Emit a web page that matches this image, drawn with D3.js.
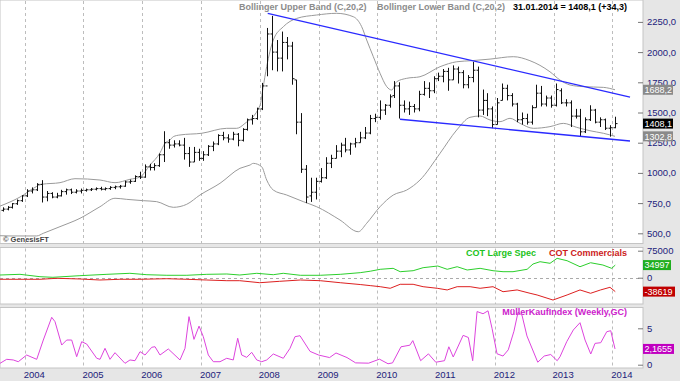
<!DOCTYPE html>
<html>
<head>
<meta charset="utf-8">
<script src="https://cdn.jsdelivr.net/npm/d3@7"></script>
<style>
  body { margin: 0; background: #e6e6e6; }
  svg { display: block; font-family: "Liberation Sans", Arial, sans-serif; }
</style>
</head>
<body>
<svg id="chart" width="680" height="381"></svg>
<script>
// ---- data ----
// monthly platinum bars, [open, high, low, close], starting Aug 2003
const startYear = 2003, startMonth = 7
const ohlc = [
  // 2003 Aug-Dec
  [690,715,680,700],[700,725,690,715],[715,750,705,745],[745,780,735,770],[770,815,760,810],
  // 2004
  [810,865,800,850],[850,880,830,860],[860,915,850,905],[905,940,755,800],[800,850,765,830],[830,840,790,800],
  [800,835,790,810],[810,860,805,845],[845,870,820,860],[860,870,825,840],[840,865,830,850],[850,870,830,855],
  // 2005
  [855,870,845,860],[860,875,850,865],[865,880,855,870],[870,885,855,865],[865,880,855,870],[870,890,860,880],
  [880,895,865,885],[885,900,870,890],[890,935,885,925],[925,945,910,930],[930,980,925,970],[970,1010,950,965],
  // 2006
  [965,1070,960,1050],[1050,1075,1020,1045],[1045,1080,1020,1060],[1060,1160,1050,1150],[1150,1345,1090,1250],[1250,1280,1200,1230],
  [1230,1270,1210,1240],[1240,1270,1220,1230],[1230,1290,1110,1160],[1160,1215,1050,1090],[1090,1215,1090,1170],[1170,1200,1100,1120],
  // 2007
  [1120,1180,1100,1150],[1150,1230,1140,1220],[1220,1260,1180,1240],[1240,1320,1230,1310],[1310,1340,1270,1290],[1290,1320,1250,1280],
  [1280,1340,1270,1320],[1320,1330,1220,1270],[1270,1370,1260,1360],[1360,1450,1350,1440],[1440,1480,1400,1450],[1450,1540,1440,1530],
  // 2008
  [1530,1745,1520,1720],[1720,2200,1800,2150],[2150,2300,1850,2000],[2000,2100,1840,1950],[1950,2170,1840,2080],[2080,2125,1940,2050],
  [2050,2085,1730,1780],[1770,1770,1320,1420],[1420,1495,1000,1030],[1030,1065,750,800],[810,960,760,840],[840,960,780,930],
  // 2009
  [930,1040,920,960],[960,1130,950,1080],[1080,1150,1040,1120],[1120,1230,1120,1180],[1180,1250,1130,1230],[1230,1290,1170,1190],
  [1190,1250,1150,1240],[1240,1290,1210,1250],[1250,1340,1250,1290],[1290,1380,1280,1330],[1330,1480,1320,1450],[1450,1490,1420,1460],
  // 2010
  [1460,1600,1440,1520],[1520,1570,1480,1560],[1560,1650,1540,1630],[1640,1760,1620,1720],[1720,1750,1450,1560],[1560,1600,1500,1530],
  [1530,1590,1480,1550],[1550,1570,1500,1530],[1530,1680,1510,1650],[1650,1760,1640,1700],[1700,1750,1620,1680],[1680,1800,1660,1780],
  // 2011
  [1780,1830,1760,1800],[1800,1860,1750,1840],[1840,1870,1680,1770],[1770,1890,1770,1860],[1860,1880,1740,1830],[1830,1850,1700,1730],
  [1730,1810,1700,1790],[1790,1920,1750,1850],[1850,1880,1460,1520],[1520,1690,1480,1600],[1600,1660,1470,1530],[1530,1550,1370,1400],
  // 2012
  [1400,1620,1400,1580],[1600,1740,1600,1700],[1700,1730,1600,1640],[1640,1660,1550,1570],[1570,1580,1420,1440],[1440,1500,1400,1450],
  [1450,1490,1400,1420],[1420,1560,1400,1540],[1540,1730,1540,1660],[1660,1720,1550,1570],[1570,1640,1550,1620],[1620,1640,1540,1560],
  // 2013
  [1560,1740,1550,1690],[1680,1700,1570,1580],[1580,1610,1550,1580],[1580,1600,1380,1470],[1470,1530,1450,1470],[1470,1530,1300,1340],
  [1340,1460,1330,1440],[1440,1560,1430,1520],[1520,1530,1410,1420],[1420,1460,1380,1440],[1440,1450,1355,1370],[1370,1395,1300,1374],
  // 2014 Jan
  [1374,1465,1370,1408.1]
]

// Bollinger bands, [year, value]
const upperBand = [
  [2003.580,725],[2003.920,800],[2004.175,880],[2004.294,906],[2004.601,919],[2004.856,952],[2005.281,941],
  [2005.537,919],[2005.792,947],[2005.962,966],[2006.132,1065],[2006.302,1165],[2006.387,1245],[2006.472,1272],
  [2006.529,1300],[2006.643,1314],[2007.012,1328],[2007.438,1369],[2007.608,1369],[2007.749,1410],[2008.005,1560],
  [2008.055,1700],[2008.118,1879],[2008.231,2100],[2008.401,2210],[2008.629,2279],[2008.969,2307],[2009.310,2321],
  [2009.592,2293],[2009.735,2210],[2009.820,2100],[2009.933,1962],[2010.047,1825],[2010.161,1714],[2010.246,1686],
  [2010.331,1755],[2010.501,1783],[2010.727,1796],[2011.068,1879],[2011.352,1920],[2011.607,1929],[2011.919,1942],
  [2012.315,1962],[2012.598,1929],[2012.939,1837],[2013.109,1769],[2013.279,1728],[2013.506,1714],[2013.847,1708],
  [2014.046,1688.2]
]
const lowerBand = [
  [2003.580,480],[2003.750,478],[2004.204,478],[2004.317,500],[2004.601,555],[2004.941,624],[2005.281,720],
  [2005.537,790],[2005.736,781],[2006.018,770],[2006.246,762],[2006.529,715],[2006.757,740],[2006.983,817],
  [2007.324,914],[2007.664,1038],[2007.834,1065],[2007.890,1079],[2008.033,1051],[2008.118,941],[2008.231,858],
  [2008.459,817],[2008.741,762],[2008.969,720],[2009.366,610],[2009.677,513],[2009.820,583],[2010.047,720],
  [2010.273,817],[2010.501,858],[2010.727,941],[2011.068,1162],[2011.352,1355],[2011.578,1460],[2011.749,1471],
  [2011.919,1438],[2012.089,1424],[2012.259,1452],[2012.430,1410],[2012.656,1369],[2012.939,1383],[2013.166,1410],
  [2013.394,1377],[2013.620,1349],[2013.847,1328],[2014.046,1302.8]
]

// drawn trend lines
const trendUpper = [[2008.136,2321],[2014.301,1628]]
const trendLower = [[2010.387,1444],[2014.301,1264]]

// COT positions
const cotLarge = [
  [2003.58,7500],[2003.92,9400],[2004.26,2800],[2004.48,1100],[2004.94,5600],[2005.40,9400],[2005.79,12200],
  [2006.08,8300],[2006.42,6700],[2006.76,6700],[2007.10,9400],[2007.44,10300],[2007.66,7500],[2007.95,12200],
  [2008.23,8300],[2008.40,12200],[2008.69,6700],[2009.03,6700],[2009.37,9400],[2009.71,14000],[2009.88,18000],
  [2010.05,23300],[2010.27,26000],[2010.39,16700],[2010.61,19400],[2010.78,27800],[2011.03,32500],[2011.19,23300],
  [2011.36,30500],[2011.53,21400],[2011.75,26000],[2011.97,19400],[2012.14,16700],[2012.31,16700],[2012.55,23300],
  [2012.65,38000],[2012.77,44400],[2012.94,40000],[2013.06,53800],[2013.23,47200],[2013.45,30500],[2013.63,41600],
  [2013.84,35200],[2013.99,26000],[2014.05,34997]
]
const cotComm = [
  [2003.58,-4400],[2004.26,-4400],[2004.55,-1700],[2004.94,-3600],[2005.28,-6400],[2005.62,-4400],[2005.96,-4400],
  [2006.42,-2800],[2006.76,-4400],[2007.10,-6400],[2007.44,-8300],[2007.66,-8300],[2008.00,-13900],[2008.34,-10000],
  [2008.69,-6400],[2009.03,-8300],[2009.37,-13900],[2009.71,-19000],[2009.88,-22000],[2010.05,-25000],[2010.22,-29400],
  [2010.39,-18300],[2010.61,-18300],[2010.78,-25000],[2011.02,-29400],[2011.19,-34000],[2011.36,-25000],[2011.58,-25000],
  [2011.75,-29400],[2011.97,-25000],[2012.14,-38900],[2012.38,-34000],[2012.60,-43300],[2012.72,-48000],[2012.99,-62000],
  [2013.23,-48000],[2013.45,-34000],[2013.63,-43300],[2013.80,-34000],[2013.96,-26700],[2014.05,-38619]
]

// MüllerKaufIndex
const mki = [
  [2003.580,0.19],[2003.694,0.74],[2003.806,0.65],[2003.891,0.41],[2004.034,1.33],[2004.205,0.74],[2004.317,3.39],
  [2004.460,6.51],[2004.516,5.91],[2004.630,2.70],[2004.715,3.39],[2004.800,3.39],[2004.885,1.10],[2004.970,3.16],
  [2005.055,2.84],[2005.226,0.88],[2005.282,0.74],[2005.367,2.25],[2005.452,0.74],[2005.537,1.65],[2005.707,0.19],
  [2005.792,0.65],[2005.877,0.55],[2005.963,1.79],[2006.048,1.33],[2006.162,2.39],[2006.218,2.47],[2006.303,1.33],
  [2006.444,2.16],[2006.643,0.65],[2006.728,2.25],[2006.796,6.60],[2006.881,3.48],[2006.967,5.30],[2007.040,3.85],
  [2007.125,1.33],[2007.210,0.41],[2007.324,0.41],[2007.438,0.88],[2007.550,0.65],[2007.625,3.63],[2007.693,1.33],
  [2007.778,1.01],[2007.863,1.70],[2007.949,0.65],[2008.034,0.41],[2008.119,0.65],[2008.231,1.47],[2008.401,0.88],
  [2008.515,2.25],[2008.600,3.85],[2008.685,3.98],[2008.856,1.83],[2009.004,1.32],[2009.189,0.98],[2009.298,1.61],
  [2009.485,0.98],[2009.632,0.25],[2009.853,0.21],[2010.037,0.76],[2010.183,0.13],[2010.260,0.25],[2010.404,2.46],
  [2010.554,2.68],[2010.605,3.31],[2010.738,0.55],[2010.871,1.49],[2010.996,0.34],[2011.144,0.55],[2011.218,2.46],
  [2011.293,1.06],[2011.461,4.03],[2011.550,3.74],[2011.624,0.55],[2011.698,7.3],[2011.800,7.0],[2011.885,7.4],
  [2011.953,5.0],[2012.038,1.5],[2012.140,1.19],[2012.229,2.04],[2012.326,4.6],[2012.395,7.2],[2012.463,6.8],
  [2012.547,3.95],[2012.731,0.34],[2012.841,1.19],[2012.952,1.4],[2013.062,0.55],[2013.110,1.1],[2013.224,3.16],
  [2013.336,4.77],[2013.450,5.77],[2013.536,3.39],[2013.633,1.47],[2013.706,2.93],[2013.803,3.02],[2013.905,4.53],
  [2013.973,4.67],[2014.046,2.1655]
]

const years = [2004,2005,2006,2007,2008,2009,2010,2011,2012,2013,2014]
const priceTicks = [500,750,1000,1250,1500,1750,2000,2250]
const cotTicks = [0,75000]
const mkiTicks = [0,5]
const lastUpper = 1688.2, lastClose = 1408.1, lastLower = 1302.8
const lastLarge = 34997, lastComm = -38619, lastMki = 2.1655

// ---- layout ----
const W = 680, H = 381, plotR = 643
const p1 = [0, 243.5], p2 = [247.5, 304], p3 = [307.5, 368]
const navy = '#22227a'

const svg = d3.select('#chart')
const x = d3.scaleLinear().domain([2003.58, 2014.471]).range([0, 640])
const yP = d3.scaleLinear().domain([500, 2250]).range([233.3, 21.9])
const yC = d3.scaleLinear().domain([0, 75000]).range([277.7, 250.7])
const yM = d3.scaleLinear().domain([0, 5]).range([364.7, 328.3])

const fmtDe = d3.formatLocale({decimal: ',', thousands: '.', grouping: [3], currency: ['', '']})
const fmt1 = fmtDe.format('.1f')
const fmt4 = fmtDe.format('.4f')

svg.append('rect').attr('width', W).attr('height', H).attr('fill', '#e6e6e6')

const panels = [p1, p2, p3]
panels.forEach((p, i) => {
  svg.append('rect')
     .attr('x', 0).attr('y', p[0])
     .attr('width', plotR).attr('height', p[1] - p[0])
     .attr('fill', '#fff').attr('stroke', '#c4c4c4')
  svg.append('clipPath').attr('id', 'clip' + i)
     .append('rect').attr('x', 0).attr('y', p[0]).attr('width', plotR).attr('height', p[1] - p[0])
  // year grid
  svg.append('g').selectAll('line').data(years).enter().append('line')
     .attr('x1', d => Math.round(x(d)) + 0.5).attr('x2', d => Math.round(x(d)) + 0.5)
     .attr('y1', p[0] + 1).attr('y2', p[1])
     .attr('stroke', '#bdbdbd').attr('stroke-dasharray', '3,3')
})

// zero line in COT panel
svg.append('line').attr('x1', 0).attr('x2', plotR)
   .attr('y1', Math.round(yC(0)) + 0.5).attr('y2', Math.round(yC(0)) + 0.5)
   .attr('stroke', '#aaa').attr('stroke-dasharray', '3,3')

// ---- price panel ----
const g1 = svg.append('g').attr('clip-path', 'url(#clip0)')
const line = d3.line().x(d => x(d[0]))

g1.append('path').datum(upperBand)
  .attr('d', line.y(d => yP(d[1])).curve(d3.curveMonotoneX))
  .attr('fill', 'none').attr('stroke', '#9a9a9a').attr('stroke-width', 1)
g1.append('path').datum(lowerBand)
  .attr('d', line.y(d => yP(d[1])).curve(d3.curveMonotoneX))
  .attr('fill', 'none').attr('stroke', '#9a9a9a').attr('stroke-width', 1)

g1.selectAll('path.bar').data(ohlc).enter().append('path')
  .attr('class', 'bar')
  .attr('d', (d, i) => {
    const t = startYear + (startMonth + i + 0.5) / 12
    const cx = Math.round(x(t)) + 0.5
    return `M${cx},${yP(d[1])}V${yP(d[2])}M${cx - 2},${yP(d[0])}H${cx}M${cx},${yP(d[3])}H${cx + 2}`
  })
  .attr('fill', 'none').attr('stroke', '#111').attr('stroke-width', 1)

const straight = d3.line().x(d => x(d[0])).y(d => yP(d[1]))
;[trendUpper, trendLower].forEach(t => {
  g1.append('path').datum(t).attr('d', straight)
    .attr('fill', 'none').attr('stroke', '#2a2aff').attr('stroke-width', 1.3)
})

svg.append('text').attr('x', 3).attr('y', 241.5)
   .attr('font-size', 7.5).attr('font-weight', 'bold').attr('fill', '#444')
   .text('© GenesisFT')

// ---- COT panel ----
const g2 = svg.append('g').attr('clip-path', 'url(#clip1)')
const cotLine = d3.line().x(d => x(d[0])).y(d => yC(d[1]))
g2.append('path').datum(cotLarge).attr('d', cotLine)
  .attr('fill', 'none').attr('stroke', '#2ccf2c').attr('stroke-width', 1)
g2.append('path').datum(cotComm).attr('d', cotLine)
  .attr('fill', 'none').attr('stroke', '#dd2020').attr('stroke-width', 1)

// ---- MKI panel ----
const g3 = svg.append('g').attr('clip-path', 'url(#clip2)')
g3.append('path').datum(mki)
  .attr('d', d3.line().x(d => x(d[0])).y(d => yM(d[1])))
  .attr('fill', 'none').attr('stroke', '#dd44dd').attr('stroke-width', 1)

// ---- right axes ----
function rightAxis(scale, major, minor, fmt) {
  const g = svg.append('g').attr('transform', `translate(${plotR},0)`)
  g.call(d3.axisRight(scale).tickValues(minor).tickSize(-3).tickFormat(''))
  g.call(d3.axisRight(scale).tickValues(major).tickSize(-5).tickPadding(4).tickFormat(fmt))
  g.selectAll('.domain').remove()
  g.selectAll('line').attr('stroke', '#777')
  g.selectAll('text').attr('fill', navy).attr('font-size', 9.5)
     .attr('font-family', '"Liberation Sans", Arial, sans-serif')
}
rightAxis(yP, priceTicks, d3.range(500, 2301, 50), fmt1)
rightAxis(yC, cotTicks, [-75000, -50000, -25000, 25000, 50000], d => d)
rightAxis(yM, mkiTicks, [1, 2, 3, 4, 6, 7], d => d)

// ---- value boxes ----
function valueBox(y, label, bg, w) {
  svg.append('rect').attr('x', plotR).attr('y', y - 5).attr('width', w).attr('height', 10).attr('fill', bg)
  svg.append('text').attr('x', plotR + 1.5).attr('y', y + 3.2)
     .attr('font-size', 9).attr('fill', '#fff').text(label)
}
valueBox(yP(lastUpper), fmt1(lastUpper), '#8a8a8a', 30)
valueBox(yP(lastLower), fmt1(lastLower), '#8a8a8a', 30)
valueBox(yP(lastClose), fmt1(lastClose), '#000', 30)
valueBox(yC(lastLarge), String(lastLarge), '#1fae1f', 28)
valueBox(yC(lastComm), String(lastComm), '#c00000', 32)
valueBox(yM(lastMki), fmt4(lastMki), '#c000c0', 31)

// ---- bottom axis ----
svg.append('g').selectAll('text').data(years).enter().append('text')
   .attr('x', d => x(d) - 1).attr('y', 377.5)
   .attr('font-size', 9.5).attr('fill', navy).text(d => d)

// ---- legends ----
const legend = (xx, yy, txt, col, anchor) => svg.append('text')
   .attr('x', xx).attr('y', yy).attr('text-anchor', anchor || 'start')
   .attr('font-size', 9).attr('font-weight', 'bold').attr('fill', col).text(txt)
legend(239, 9.5, 'Bollinger Upper Band (C,20,2)', '#8c8c8c')
legend(377, 9.5, 'Bollinger Lower Band (C,20,2)', '#8c8c8c')
legend(627, 9.5, '31.01.2014 = 1408,1 (+34,3)', '#000', 'end')
legend(466, 256, 'COT Large Spec', '#22c322')
legend(627, 256, 'COT Commercials', '#cc1b1b', 'end')
legend(627, 315, 'MüllerKaufIndex (Weekly,GC)', '#cc22cc', 'end')
</script>
</body>
</html>
